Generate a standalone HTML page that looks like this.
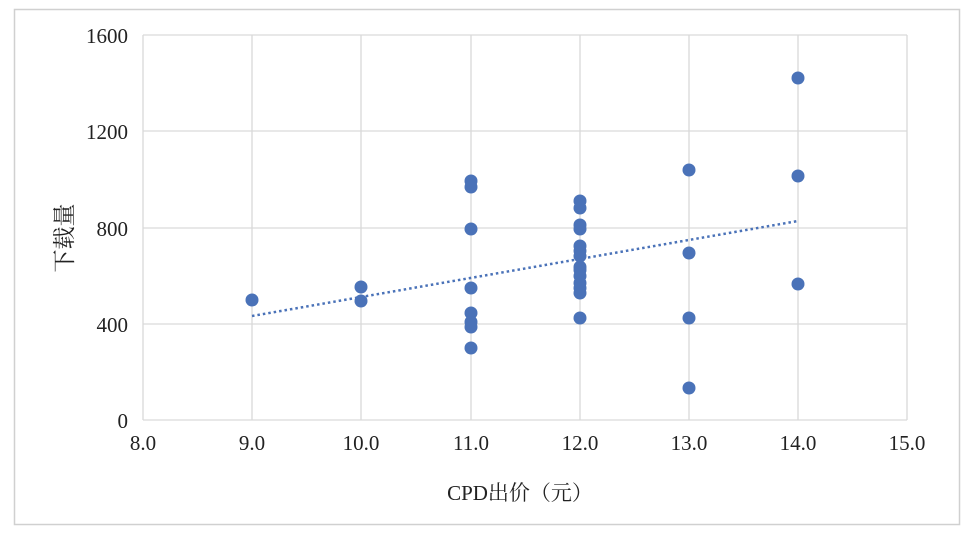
<!DOCTYPE html>
<html><head><meta charset="utf-8"><style>
body{margin:0;background:#fff;width:971px;height:535px;overflow:hidden}
text{font-family:"Liberation Serif","Noto Serif CJK SC",serif;font-size:21px;fill:#222}
</style></head><body>
<svg width="971" height="535" xmlns="http://www.w3.org/2000/svg">
<rect x="14.5" y="9.5" width="945" height="515" fill="#fff" stroke="#d0d0d0" stroke-width="1.5"/>
<g stroke="#d9d9d9" stroke-width="1.3" fill="none">
<line x1="143" y1="35" x2="907" y2="35"/>
<line x1="143" y1="131" x2="907" y2="131"/>
<line x1="143" y1="228" x2="907" y2="228"/>
<line x1="143" y1="324" x2="907" y2="324"/>
<line x1="143" y1="420" x2="907" y2="420"/>
<line x1="143" y1="35" x2="143" y2="420"/>
<line x1="252" y1="35" x2="252" y2="420"/>
<line x1="361" y1="35" x2="361" y2="420"/>
<line x1="471" y1="35" x2="471" y2="420"/>
<line x1="580" y1="35" x2="580" y2="420"/>
<line x1="689" y1="35" x2="689" y2="420"/>
<line x1="798" y1="35" x2="798" y2="420"/>
<line x1="907" y1="35" x2="907" y2="420"/>
</g>
<g text-anchor="end">
<text x="128" y="43">1600</text><text x="128" y="139">1200</text>
<text x="128" y="236">800</text><text x="128" y="332">400</text><text x="128" y="428">0</text>
</g>
<g text-anchor="middle">
<text x="143" y="450">8.0</text><text x="252" y="450">9.0</text><text x="361" y="450">10.0</text>
<text x="471" y="450">11.0</text><text x="580" y="450">12.0</text><text x="689" y="450">13.0</text>
<text x="798" y="450">14.0</text><text x="907" y="450">15.0</text>
<text x="520" y="500">CPD出价（元）</text>
<text transform="translate(72,238) rotate(-90)" style="font-size:23px">下载量</text>
</g>
<line x1="252" y1="316" x2="798" y2="221" stroke="#4a72b8" stroke-width="2.5" stroke-dasharray="2.5 3"/>
<g fill="#4a72b8">
<circle cx="252" cy="300" r="6.5"/>
<circle cx="361" cy="287" r="6.5"/><circle cx="361" cy="301" r="6.5"/>
<circle cx="471" cy="181" r="6.5"/><circle cx="471" cy="187" r="6.5"/><circle cx="471" cy="229" r="6.5"/>
<circle cx="471" cy="288" r="6.5"/><circle cx="471" cy="313" r="6.5"/><circle cx="471" cy="322" r="6.5"/>
<circle cx="471" cy="327" r="6.5"/><circle cx="471" cy="348" r="6.5"/>
<circle cx="580" cy="201" r="6.5"/><circle cx="580" cy="208" r="6.5"/><circle cx="580" cy="225" r="6.5"/>
<circle cx="580" cy="229" r="6.5"/><circle cx="580" cy="246" r="6.5"/><circle cx="580" cy="251" r="6.5"/>
<circle cx="580" cy="256" r="6.5"/><circle cx="580" cy="267" r="6.5"/><circle cx="580" cy="270" r="6.5"/>
<circle cx="580" cy="276" r="6.5"/><circle cx="580" cy="283" r="6.5"/><circle cx="580" cy="288" r="6.5"/>
<circle cx="580" cy="293" r="6.5"/><circle cx="580" cy="318" r="6.5"/>
<circle cx="689" cy="170" r="6.5"/><circle cx="689" cy="253" r="6.5"/><circle cx="689" cy="318" r="6.5"/>
<circle cx="689" cy="388" r="6.5"/>
<circle cx="798" cy="78" r="6.5"/><circle cx="798" cy="176" r="6.5"/><circle cx="798" cy="284" r="6.5"/>
</g>
</svg>
</body></html>
